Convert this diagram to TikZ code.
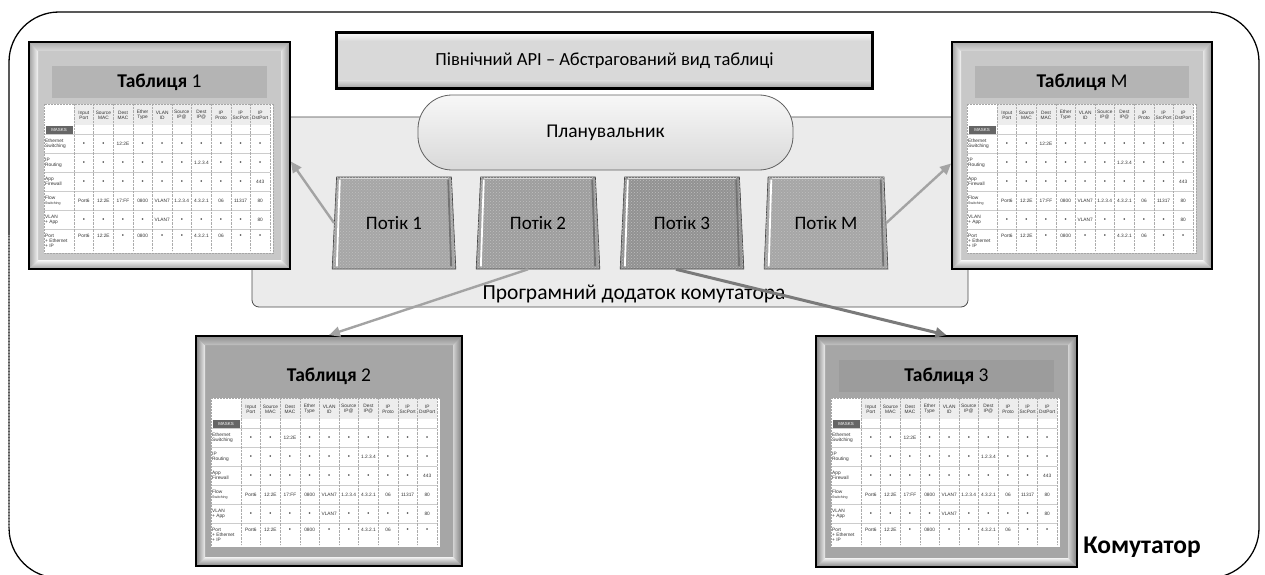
\documentclass[tikz,border=0pt]{standalone}
\usepackage{fontspec}
\setmainfont{Carlito}
\newfontfamily\tabfont{Liberation Sans}
\usetikzlibrary{shapes.geometric,arrows.meta,patterns,calc}

\definecolor{appbg}{HTML}{EBEBEB}
\definecolor{connc}{HTML}{A3A3A3}
\definecolor{conndark}{HTML}{7A7A7A}
\definecolor{flowA}{HTML}{A6A6A6}
\definecolor{flowB}{HTML}{9E9E9E}
\definecolor{flowC}{HTML}{929292}
\definecolor{frameL}{HTML}{C8C8C8}
\definecolor{barL}{HTML}{B4B4B4}
\definecolor{frameD}{HTML}{A6A6A6}
\definecolor{barD}{HTML}{9C9C9C}
\definecolor{txtgray}{HTML}{333333}
\definecolor{apifill}{HTML}{D9D9D9}

\tikzset{
 tabtxt/.style={font=\tabfont\fontsize{4.8}{5.2}\selectfont, text=txtgray, inner sep=0pt, align=center},
 tabval/.style={font=\tabfont\fontsize{4.8}{5.2}\selectfont, text=txtgray, inner sep=0pt, anchor=base},
 tablab/.style={font=\tabfont\fontsize{4.8}{5.3}\selectfont, text=txtgray, inner sep=0pt, align=left, anchor=west},
 hline/.style={draw=gray!40, line width=0.9pt},
 vline/.style={draw=gray!65, line width=0.4pt, densely dotted},
 tframe/.style={draw=black, line width=1.8pt, inner sep=0pt},
 ttitle/.style={font=\fontsize{19.5}{19.5}\selectfont, inner sep=0pt},
 flowbox/.style={trapezium, trapezium left angle=80.7, trapezium right angle=80.7,
   trapezium stretches=true, minimum width=124, minimum height=92, inner sep=0pt,
   draw=black!75, line width=0.6pt, font=\fontsize{19}{19}\selectfont,
   postaction={pattern=crosshatch dots, pattern color=black!25}},
 arr/.style={draw=connc, line width=2.4pt, -{Triangle[length=11pt,width=10pt]}},
 outerline/.style={draw=black, line width=1.3pt, dash pattern=on 1.2pt off 0.3pt},
}

\newcommand\bul{{\fontsize{6}{5}\selectfont •}}

\newcommand\mktable[8]{%
 \node[tframe, fill=#6, minimum width=#4, minimum height=#5] (#1) at ({#2+#4/2},{#3+#5/2}) {};
 \begin{scope}[shift={(#2,#3)}]
  \shade[left color=#6!80!black, right color=white!80!#6] (0,0) -- (9,9) -- (9,{#5-9}) -- (0,#5) -- cycle;
  \shade[top color=#6!85!black, bottom color=#6!70!white] (0,0) -- (#4,0) -- ({#4-9},9) -- (9,9) -- cycle;
  \shade[left color=#6!50!white, right color=#6!75!black] (#4,0) -- (#4,#5) -- ({#4-9},{#5-9}) -- ({#4-9},9) -- cycle;
  \shade[top color=white!85!#6, bottom color=#6!80!black] (0,#5) -- (#4,#5) -- ({#4-9},{#5-9}) -- (9,{#5-9}) -- cycle;
  \draw[line width=1.8pt] (0,0) rectangle (#4,#5);
  \fill[#7] (23,24) rectangle ({#4-23},56);
  \begin{scope}[shift={(15,62)}]
   \fill[white] (0,0) rectangle (229,149);
   \fill[gray!14] (30,0) rectangle (226,21);
   \foreach \yy in {30,49,68,87,106,125} \draw[hline] (0,\yy) -- (226,\yy);
   \foreach \k in {0,...,10} \draw[vline] ({30+19.6*\k},0) -- ({30+19.6*\k},147);
   \draw[gray!70, densely dotted, line width=0.5pt] (0,0) rectangle (229,149);
   \foreach \h [count=\i] in {{Input\\Port},{Source\\MAC},{Dest\\MAC},{Ether\\Type},{VLAN\\ID},{Source\\IP@},{Dest\\IP@},{IP\\Proto},{IP\\SrcPort},{IP\\DstPort}}
     \node[tabtxt] (#1-h\i) at ({30+19.6*\i-9.8},11) {\h};
   \node[fill=black!60, text=white, font=\tabfont\fontsize{4.4}{4.4}\selectfont, minimum width=27, minimum height=8, inner sep=0pt] (#1-mask) at (15,26) {MASKS};
   \node[tablab] (#1-la) at (1,39.5) {Ethernet\\Switching};
   \node[tablab] (#1-lb) at (1,58.5) {IP\\Routing};
   \node[tablab] (#1-lc) at (1,77.5) {App\\Firewall};
   \node[tablab] (#1-ld) at (1,96.5) {Flow\\{\fontsize{3.6}{4}\selectfont Switching}};
   \node[tablab] (#1-le) at (1,115.5) {VLAN\\+ App};
   \node[tablab] (#1-lf) at (1,137) {Port\\+ Ethernet\\+ IP};
   \foreach \v [count=\i] in {\bul,\bul,12:2E,\bul,\bul,\bul,\bul,\bul,\bul,\bul}
     \node[tabval] (#1-a\i) at ({30+19.6*\i-9.8},41.3) {\v};
   \foreach \v [count=\i] in {\bul,\bul,\bul,\bul,\bul,\bul,1.2.3.4,\bul,\bul,\bul}
     \node[tabval] (#1-b\i) at ({30+19.6*\i-9.8},60.3) {\v};
   \foreach \v [count=\i] in {\bul,\bul,\bul,\bul,\bul,\bul,\bul,\bul,\bul,443}
     \node[tabval] (#1-c\i) at ({30+19.6*\i-9.8},79.3) {\v};
   \foreach \v [count=\i] in {Port6,12:2E,17:FF,0800,VLAN7,1.2.3.4,4.3.2.1,06,11317,80}
     \node[tabval] (#1-d\i) at ({30+19.6*\i-9.8},98.3) {\v};
   \foreach \v [count=\i] in {\bul,\bul,\bul,\bul,VLAN7,\bul,\bul,\bul,\bul,80}
     \node[tabval] (#1-e\i) at ({30+19.6*\i-9.8},117.3) {\v};
   \foreach \v [count=\i] in {Port6,12:2E,\bul,0800,\bul,\bul,4.3.2.1,06,\bul,\bul}
     \node[tabval] (#1-f\i) at ({30+19.6*\i-9.8},133.8) {\v};
  \end{scope}
 \end{scope}
 \node[ttitle] (#1-title) at ({#2+#4/2},{#3+40}) {#8};
}

\begin{document}
\begin{tikzpicture}[x=1pt,y=-1pt]
\useasboundingbox (0,0) rectangle (1265,575);
\fill[white] (0,0) rectangle (1265,575);

% outer switch border
\draw[outerline, rounded corners=50pt] (9,12) rectangle (1259,578);

% application box
\node[draw=black!70, fill=appbg, rounded corners=7pt, minimum width=716, minimum height=190, line width=0.8pt, inner sep=0pt] (app) at (610,212) {};
\node[font=\fontsize{21.5}{22}\selectfont, inner sep=0pt] (applbl) at (634,294) {Програмний додаток комутатора};

% northbound API
\node[draw=black, line width=1.8pt, fill=apifill, minimum width=535, minimum height=55, inner sep=0pt] (api) at (604.5,60.5) {};
\shade[top color=white!70!apifill, bottom color=apifill] ($(api.north west)+(2,2)$) rectangle ($(api.north east)+(-2,9)$);
\shade[top color=apifill, bottom color=apifill!80!black] ($(api.south west)+(2,-8)$) rectangle ($(api.south east)+(-2,-2)$);
\draw[line width=1.8pt] (api.north west) rectangle (api.south east);
\node[font=\fontsize{18.5}{19}\selectfont, inner sep=0pt] (apitxt) at (api.center) {Північний API – Абстрагований вид таблиці};

% scheduler
\node[draw=gray!75!black, line width=0.8pt, top color=gray!6, bottom color=gray!30, rounded corners=34pt, minimum width=375, minimum height=75, inner sep=0pt, font=\fontsize{19.5}{20}\selectfont] (plan) at (605.5,132.5) {Планувальник};

% flows
\node[flowbox, fill=flowA] (f1) at (394,223) {Потік 1};
\node[flowbox, fill=flowB] (f2) at (538,223) {Потік 2};
\node[flowbox, fill=flowC] (f3) at (682,223) {Потік 3};
\node[flowbox, fill=flowA] (fM) at (826,223) {Потік M};
\foreach \f in {f1,f2,f3,fM} {
  \draw[white, line width=1.8pt] ($(\f.bottom left corner)+(5,-3)$) -- ($(\f.top left corner)+(3.5,3)$);
  \draw[black!55, line width=1.8pt] ($(\f.bottom right corner)+(-5,-3)$) -- ($(\f.top right corner)+(-3.5,3)$);
  \draw[white!70!gray, line width=0.8pt] ($(\f.top left corner)+(4,1.5)$) -- ($(\f.top right corner)+(-4,1.5)$);
}

% tables
\mktable{t1}{29}{42}{261}{227}{frameL}{barL}{\textbf{Таблиця} 1}
\mktable{tM}{952}{42}{260}{227}{frameL}{barL}{\textbf{Таблиця} M}
\mktable{t2}{196}{336}{266}{230}{frameD}{frameD}{\textbf{Таблиця} 2}
\mktable{t3}{816}{336}{261}{231}{frameD}{barD}{\textbf{Таблиця} 3}

\node[font=\bfseries\fontsize{25.5}{26}\selectfont, inner sep=0pt] (sw) at (1142,547) {Комутатор};

% connectors
\draw[arr] (f1.west) -- ([yshift=-6pt]t1.east);
\draw[arr] (fM.east) -- ([yshift=-8pt]tM.west);
\draw[arr] ([xshift=-10pt]f2.south) -- (t2.north);
\draw[arr, draw=conndark, line width=3pt] ([xshift=-6pt]f3.south) -- (t3.north);
\end{tikzpicture}
\end{document}
